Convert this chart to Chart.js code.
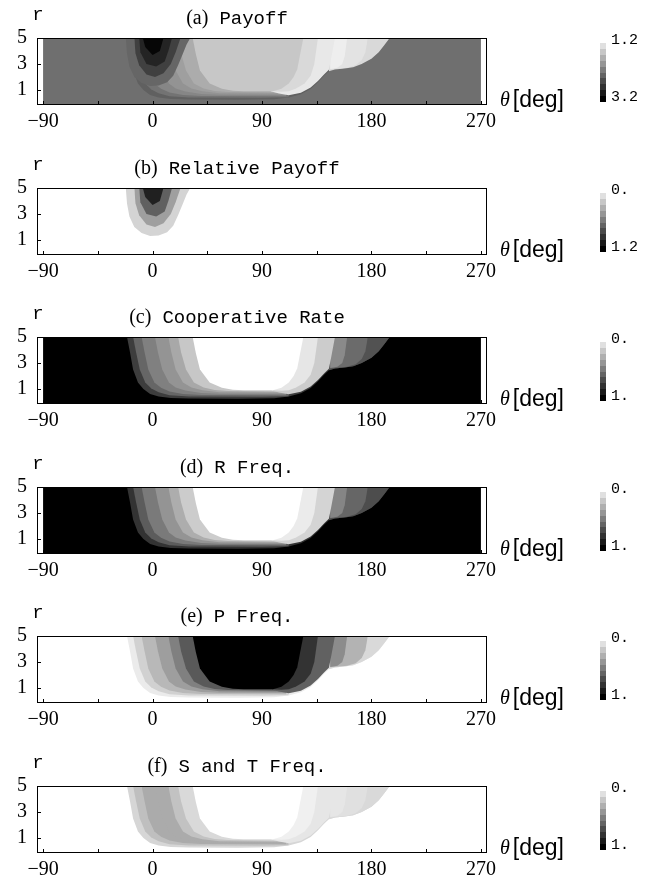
<!DOCTYPE html>
<html>
<head>
<meta charset="utf-8">
<script src="https://cdn.jsdelivr.net/npm/chart.js@4.4.0/dist/chart.umd.min.js"></script>
<style>
  body { margin: 0; background: #fff; width: 657px; height: 885px; overflow: hidden; position: relative; }
  .panel { position: absolute; left: 0; width: 657px; height: 150px; }
</style>
</head>
<body>
<script>
// axis ticks
const thetaTicks = [-90, 0, 90, 180, 270];
const thetaMinor = [-90, -45, 0, 45, 90, 135, 180, 225, 270];
const rTicks = [1, 3, 5];

// lower edges [theta, r] of each zone; every zone reaches up to r = 5
const topEdge = [[-90, 5], [270, 5]];
const fullEdge = [[-21, 5], [-18.5, 3.8], [-16, 2.5], [-12, 1.5], [-7.5, 1.0], [-2, 0.62], [5, 0.42], [15, 0.32], [30, 0.28], [70, 0.26], [100, 0.3], [112, 0.42], [122, 0.68], [130, 1.08], [136, 1.6], [141, 2.1], [145, 2.45], [150, 2.58], [158, 2.65], [165, 2.75], [172, 3.0], [180, 3.4], [186, 3.9], [191, 4.5], [195, 5]];
const bumpEdge = [[145, 2.45], [150, 2.58], [158, 2.65], [165, 2.75], [172, 3.0], [180, 3.4], [186, 3.9], [191, 4.5], [195, 5]];
const bumpMid = [[146, 2.6], [160, 2.72], [167, 2.9], [172, 3.3], [175, 3.9], [177, 5]];
const bumpIn = [[146, 2.62], [152, 2.72], [156, 3.0], [158, 3.6], [160, 5]];
const band2 = [[-16, 5], [-13.5, 3.8], [-10.5, 2.5], [-6, 1.5], [-1, 1.05], [5, 0.75], [14, 0.52], [30, 0.42], [90, 0.4], [112, 0.45]];
const band3 = [[-9, 5], [-6.5, 3.8], [-3.5, 2.5], [1.5, 1.5], [7, 1.1], [14, 0.82], [25, 0.62], [40, 0.54], [110, 0.52]];
const band4 = [[2, 5], [4.5, 3.8], [8, 2.5], [13.5, 1.5], [19, 1.12], [27, 0.88], [40, 0.7], [55, 0.64], [110, 0.62]];
const band5 = [[13, 5], [15.5, 3.8], [19, 2.5], [25, 1.5], [32, 1.12], [41, 0.9], [55, 0.76], [110, 0.72]];
const band6 = [[21, 5], [23.5, 3.8], [27.5, 2.5], [34, 1.5], [42, 1.12], [51, 0.92], [62, 0.84], [110, 0.8]];
const rightBand = [[97, 0.9], [104, 0.74], [112, 0.6], [122, 0.8], [130, 1.2], [136, 1.7], [141, 2.2], [145, 2.55], [147, 3.5], [150, 5]];
const rightInner = [[98, 0.9], [106, 0.86], [112, 0.9], [118, 1.12], [125, 1.5], [130, 2.1], [133, 3.0], [136, 5]];
const coreEdge = [[33, 5], [35.5, 3.8], [39, 2.5], [47, 1.5], [57, 1.1], [66, 0.95], [75, 0.9], [99, 0.9], [106, 1.1], [112, 1.5], [116, 2.0], [119, 2.6], [121.5, 3.8], [124, 5]];
const cap1 = [[-22, 5], [-21, 3.8], [-19, 2.8], [-15, 2.0], [-9, 1.55], [-2, 1.32], [5, 1.35], [12, 1.6], [17, 2.1], [21, 2.9], [25, 3.8], [28, 4.5], [31, 5]];
const cap2 = [[-15, 5], [-14, 3.8], [-11, 2.9], [-5, 2.2], [2, 2.0], [9, 2.3], [15, 3.0], [19, 3.9], [23, 5]];
const cap3 = [[-11, 5], [-10, 3.9], [-5, 3.0], [3, 2.8], [10, 3.2], [13, 4.0], [16, 5]];
const cap4 = [[-8, 5], [-6, 4.3], [0, 3.7], [6, 4.0], [9, 5]];

const zones = [topEdge, fullEdge, bumpEdge, bumpMid, bumpIn, band2, band3, band4, band5, band6, rightBand, rightInner, coreEdge, cap1, cap2, cap3, cap4];

// value of each zone, per panel (null = zone not drawn)
const payoff    = [2.33, 2.45, 1.5, 1.42, 1.33, 2.3, 2.15, 2.05, 1.95, 1.85, 1.38, 1.5, 1.64, 2.4, 2.7, 2.92, 3.15];
const relPayoff = [0, null, null, null, null, null, null, null, null, null, null, null, null, 0.2, 0.45, 0.75, 1.05];
const coopRate  = [1, 0.76, 0.68, 0.58, 0.46, 0.6, 0.5, 0.42, 0.34, 0.22, 0.2, 0.1, 0, null, null, null, null];
const rFreq     = [1, 0.8, 0.7, 0.6, 0.48, 0.64, 0.52, 0.42, 0.32, 0.2, 0.17, 0.08, 0, null, null, null, null];
const pFreq     = [0, 0.08, 0.15, 0.3, 0.45, 0.18, 0.28, 0.38, 0.5, 0.65, 0.62, 0.8, 1, null, null, null, null];
const stFreq    = [0, 0.16, 0.15, 0.12, 0.1, 0.25, 0.33, 0.33, 0.24, 0.15, 0.1, 0.06, 0, null, null, null, null];

const panelTags = ['(a)', '(b)', '(c)', '(d)', '(e)', '(f)'];
const panelNames = ['Payoff', 'Relative Payoff', 'Cooperative Rate', 'R Freq.', 'P Freq.', 'S and T Freq.'];
const barLow = [1.2, 0, 0, 0, 0, 0];
const barHigh = [3.2, 1.2, 1, 1, 1, 1];
const barTopLabels = ['1.2', '0.', '0.', '0.', '0.', '0.'];
const barBottomLabels = ['3.2', '1.2', '1.', '1.', '1.', '1.'];

const SERIF = '"Liberation Serif", "Times New Roman", serif';
const MONO = '"Liberation Mono", "Courier New", monospace';
const SANS = '"Liberation Sans", Arial, sans-serif';

function greyOf(t) {
  t = Math.min(1, Math.max(0, t));
  const c = Math.round(255 * (1 - t));
  return `rgb(${c},${c},${c})`;
}

function shade(v, lo, hi) {
  return greyOf((v - lo) / (hi - lo));
}

// frame, inward ticks, labels and the grey scale bar
const deco = {
  id: 'deco',
  afterDraw(chart, args, opts) {
    const i = opts.idx;
    const { ctx, chartArea: a, scales: { x, y } } = chart;
    ctx.save();
    ctx.strokeStyle = '#000';
    ctx.lineWidth = 1;
    ctx.strokeRect(a.left + 0.5, a.top + 0.5, a.width - 1, a.height - 1);
    ctx.beginPath();
    thetaMinor.forEach(v => {
      const px = Math.round(x.getPixelForValue(v)) + 0.5;
      ctx.moveTo(px, a.bottom);
      ctx.lineTo(px, a.bottom - 4);
    });
    rTicks.forEach(v => {
      const py = Math.round(y.getPixelForValue(v)) + 0.5;
      ctx.moveTo(a.left, py);
      ctx.lineTo(a.left + 4, py);
    });
    ctx.stroke();

    ctx.fillStyle = '#000';
    ctx.textBaseline = 'middle';

    // r label
    ctx.font = '19px ' + MONO;
    ctx.textAlign = 'center';
    ctx.fillText('r', 38, a.top - 23);

    // title: tag in serif, name in mono
    ctx.textAlign = 'left';
    ctx.font = '20px ' + SERIF;
    const tagW = ctx.measureText(panelTags[i]).width;
    ctx.font = '19px ' + MONO;
    const nameW = ctx.measureText(panelNames[i]).width;
    const gap = 11;
    let tx = 237 - (tagW + gap + nameW) / 2;
    ctx.font = '20px ' + SERIF;
    ctx.fillText(panelTags[i], tx, a.top - 19);
    ctx.font = '19px ' + MONO;
    ctx.fillText(panelNames[i], tx + tagW + gap, a.top - 19);

    // theta[deg]
    ctx.font = 'italic 20px ' + SERIF;
    ctx.fillText('\u03B8', 500, a.bottom - 4);
    const thW = ctx.measureText('\u03B8').width;
    ctx.font = '23px ' + SANS;
    ctx.fillText('[deg]', 500 + thW + 3, a.bottom - 4);

    // grey scale bar
    const steps = 10, bx = 600, bw = 6, by = a.top + 5, bh = 59;
    for (let k = 0; k < steps; k++) {
      ctx.fillStyle = greyOf(0.12 + k * 0.88 / (steps - 1));
      const y0 = by + Math.round(k * bh / steps);
      const y1 = by + Math.round((k + 1) * bh / steps);
      ctx.fillRect(bx, y0, bw, y1 - y0);
    }
    ctx.fillStyle = '#000';
    ctx.font = '15px ' + MONO;
    ctx.fillText(barTopLabels[i], 611, a.top + 2);
    ctx.fillText(barBottomLabels[i], 611, a.top + 59);
    ctx.restore();
  }
};

const panelValues = [payoff, relPayoff, coopRate, rFreq, pFreq, stFreq];

panelValues.forEach((vals, i) => {
  const box = document.createElement('div');
  box.className = 'panel';
  box.style.top = Math.round(i * 149.5) + 'px';
  const cv = document.createElement('canvas');
  cv.width = 657;
  cv.height = 150;
  box.appendChild(cv);
  document.body.appendChild(box);

  const datasets = [];
  zones.forEach((edge, z) => {
    if (vals[z] === null) return;
    datasets.push({
      data: edge.map(p => ({ x: p[0], y: p[1] })),
      fill: z === 0 ? 'start' : 'end',
      backgroundColor: shade(vals[z], barLow[i], barHigh[i]),
      borderColor: 'rgba(0,0,0,0)',
      borderWidth: 0,
      pointRadius: 0,
      tension: 0,
      order: -z
    });
  });

  new Chart(cv, {
    type: 'line',
    data: { datasets },
    plugins: [deco],
    options: {
      responsive: false,
      animation: false,
      devicePixelRatio: 1,
      layout: { padding: { left: 0, right: 170, top: 38, bottom: 0 } },
      plugins: {
        legend: { display: false },
        tooltip: { enabled: false },
        deco: { idx: i }
      },
      scales: {
        x: {
          type: 'linear',
          min: -95,
          max: 275,
          afterBuildTicks: s => { s.ticks = thetaTicks.map(v => ({ value: v })); },
          afterFit: s => { s.height = 45; },
          grid: { display: false, drawTicks: false },
          border: { display: false },
          ticks: {
            autoSkip: false,
            maxRotation: 0,
            padding: 5,
            color: '#000',
            font: { family: SERIF, size: 20 },
            callback: v => (v < 0 ? '\u2212' + Math.abs(v) : String(v))
          }
        },
        y: {
          type: 'linear',
          min: -0.15,
          max: 5,
          afterBuildTicks: s => { s.ticks = rTicks.map(v => ({ value: v })); },
          afterFit: s => { s.width = 37; },
          grid: { display: false, drawTicks: false },
          border: { display: false },
          ticks: {
            padding: 10,
            color: '#000',
            font: { family: SERIF, size: 20 }
          }
        }
      }
    }
  });
});
</script>
</body>
</html>
